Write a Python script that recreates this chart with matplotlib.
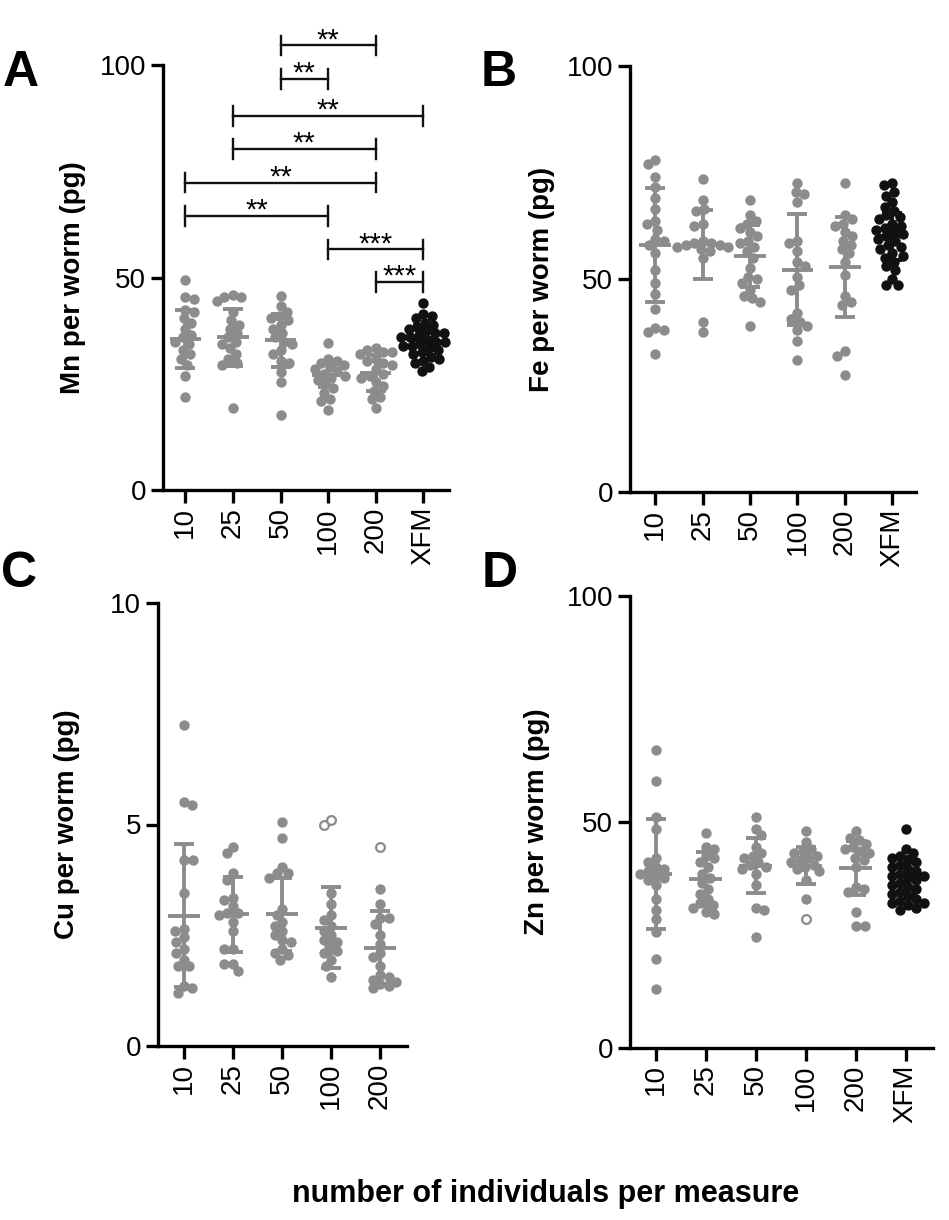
import numpy as np
import matplotlib
matplotlib.use('Agg')
import matplotlib.pyplot as plt

plt.rcParams['font.family'] = ['Liberation Sans', 'DejaVu Sans']

groups = ['10', '25', '50', '100', '200', 'XFM']
gray = '#8c8c8c'
black = '#111111'

# Mn per worm (pg), one list per group
mn_values = [
    [49.5, 45.5, 45.0, 42.5, 42.0, 40.5, 39.5, 38.0, 36.5, 36.0, 35.0, 34.5, 33.0, 32.0, 31.0, 29.5, 27.0, 22.0],
    [46.0, 45.5, 45.5, 44.5, 42.0, 40.0, 39.0, 38.0, 37.0, 36.0, 35.0, 34.5, 33.5, 32.0, 31.0, 30.0, 29.5, 19.5],
    [45.7, 43.5, 42.0, 41.0, 40.5, 40.0, 39.0, 38.0, 37.0, 36.0, 35.0, 34.5, 33.0, 32.0, 30.5, 30.0, 27.8, 25.5, 17.8],
    [34.7, 31.0, 30.5, 30.0, 29.5, 29.0, 28.5, 28.0, 27.5, 27.0, 26.5, 26.0, 25.0, 24.0, 23.0, 21.5, 21.0, 19.0],
    [33.5, 33.0, 32.5, 32.5, 32.0, 31.0, 30.5, 30.0, 29.5, 28.5, 27.5, 27.0, 26.5, 25.5, 24.5, 23.5, 22.0, 21.5, 19.5],
    [44.0, 41.5, 41.0, 40.5, 39.5, 39.0, 38.5, 38.0, 37.5, 37.0, 37.0, 36.5, 36.0, 36.0, 35.5, 35.0, 35.0, 34.5,
     34.0, 34.0, 33.5, 33.0, 32.5, 32.0, 31.5, 31.0, 30.5, 30.0, 29.0, 28.0],
]
mn_mean = [35.7, 36.0, 35.3, 27.1, 27.7, 35.5]
mn_sd = [6.85, 6.75, 6.3, 2.85, 4.2, 3.5]

# Fe per worm (pg)
fe_values = [
    [78.0, 77.0, 74.0, 71.5, 69.0, 66.5, 63.5, 63.0, 61.5, 59.5, 59.0, 58.0, 56.0, 52.0, 49.0, 46.5, 43.0, 38.5, 38.0, 37.5, 32.5],
    [73.5, 68.5, 66.5, 66.0, 63.0, 62.5, 59.0, 58.5, 58.5, 58.0, 58.0, 57.5, 57.5, 57.0, 56.5, 55.0, 40.0, 37.5],
    [68.5, 65.0, 63.5, 63.0, 62.0, 61.0, 60.0, 59.0, 58.5, 57.5, 56.5, 55.0, 52.5, 50.5, 50.0, 49.0, 47.5, 46.0, 45.5, 44.5, 39.0],
    [72.5, 70.5, 70.0, 68.0, 59.0, 58.5, 56.5, 54.0, 53.0, 50.5, 48.5, 47.5, 42.0, 40.5, 40.0, 39.0, 38.0, 35.5, 31.0],
    [72.5, 65.0, 64.0, 63.0, 62.5, 61.0, 60.0, 59.0, 58.0, 57.0, 56.0, 54.0, 51.0, 46.0, 44.5, 44.0, 33.0, 32.0, 27.5],
    [72.5, 72.0, 70.5, 69.5, 68.0, 67.0, 66.0, 65.0, 64.5, 64.0, 63.0, 62.5, 62.0, 61.5, 61.0, 60.5, 60.0, 59.5,
     59.0, 58.0, 57.5, 57.0, 56.0, 55.5, 55.0, 54.0, 53.0, 52.0, 50.0, 48.5, 48.5],
]
fe_mean = [57.9, 58.1, 55.4, 52.2, 52.8, 60.0]
fe_sd = [13.4, 8.1, 7.3, 13.0, 11.7, 5.5]

# Cu per worm (pg), no XFM group; open circles are outliers
cu_values = [
    [7.25, 5.5, 5.45, 4.2, 4.2, 3.45, 2.65, 2.6, 2.45, 2.35, 2.2, 2.1, 1.95, 1.8, 1.8, 1.35, 1.3, 1.2],
    [4.5, 4.35, 3.9, 3.75, 3.35, 3.3, 3.15, 3.0, 3.0, 2.95, 2.8, 2.6, 2.2, 2.2, 1.85, 1.85, 1.7],
    [5.05, 4.7, 4.05, 3.9, 3.9, 3.8, 3.1, 2.95, 2.8, 2.7, 2.6, 2.5, 2.4, 2.35, 2.2, 2.1, 2.05, 1.95],
    [3.45, 3.2, 2.95, 2.85, 2.7, 2.6, 2.5, 2.4, 2.35, 2.25, 2.15, 2.1, 1.95, 1.8, 1.55],
    [3.55, 3.2, 2.9, 2.9, 2.75, 2.5, 2.3, 2.1, 2.0, 1.8, 1.6, 1.55, 1.5, 1.45, 1.4, 1.35, 1.3],
]
cu_open = [[], [], [], [5.0, 5.1], [4.5]]
cu_mean = [2.94, 2.97, 2.97, 2.67, 2.22]
cu_sd = [1.61, 0.84, 0.83, 0.92, 0.83]

# Zn per worm (pg)
zn_values = [
    [66.0, 59.0, 51.0, 48.5, 42.0, 41.0, 40.0, 39.5, 39.0, 38.5, 38.0, 37.5, 37.0, 36.0, 33.0, 30.5, 28.5, 25.5, 19.5, 13.0],
    [47.5, 44.5, 44.0, 42.5, 42.0, 41.0, 40.0, 38.5, 37.5, 36.5, 35.0, 34.0, 33.0, 32.0, 31.5, 31.0, 30.0, 29.5],
    [51.0, 48.5, 47.0, 44.5, 43.0, 42.5, 42.0, 41.0, 40.5, 40.0, 39.5, 38.5, 36.0, 31.0, 30.5, 24.5],
    [48.0, 45.5, 44.0, 43.5, 43.0, 42.5, 42.0, 41.5, 41.0, 40.5, 40.0, 39.5, 39.0, 37.0, 33.0],
    [48.0, 46.5, 46.0, 45.0, 44.5, 44.0, 43.5, 43.0, 42.0, 41.5, 40.0, 35.5, 35.0, 34.5, 30.0, 27.0, 27.0],
    [48.5, 44.0, 43.0, 42.5, 42.0, 41.5, 41.0, 40.5, 40.0, 39.5, 39.0, 38.5, 38.0, 38.0, 37.5, 37.0, 36.5, 36.0,
     35.5, 35.0, 34.5, 34.0, 33.5, 33.0, 32.5, 32.0, 32.0, 31.5, 31.0, 30.5],
]
zn_open = [[], [], [], [28.5], [], []]
zn_mean = [38.4, 37.3, 40.3, 40.3, 39.7, 38.1]
zn_sd = [12.1, 6.0, 6.1, 4.1, 6.0, 4.0]

# significance brackets in panel A
sig_left = [2, 2, 1, 1, 0, 0, 3, 4]
sig_right = [4, 3, 5, 4, 4, 3, 5, 5]
sig_y = [104.7, 96.8, 88.1, 80.3, 72.4, 64.6, 56.7, 49.0]
sig_text = ['**', '**', '**', '**', '**', '**', '***', '***']


def swarm_x(ax, x0, values, diam):
    # simple beeswarm: put each point at the closest free spot to the centre line
    pts = ax.transData.transform(np.column_stack([np.full(len(values), x0), values]))
    ys = pts[:, 1]
    cx = pts[0, 0]
    offs = np.zeros(len(values))
    placed = []
    for k, i in enumerate(np.argsort(-ys)):
        y = ys[i]
        sign = 1 if k % 2 == 0 else -1
        found = 0.0
        for step in np.arange(0, 80, 0.5):
            cands = [0.0] if step == 0 else [sign * step, -sign * step]
            hit = None
            for c in cands:
                if all((c - px) ** 2 + (y - py) ** 2 >= diam ** 2 for px, py in placed):
                    hit = c
                    break
            if hit is not None:
                found = hit
                break
        placed.append((found, y))
        offs[i] = found
    back = ax.transData.inverted().transform(np.column_stack([cx + offs, ys]))
    return back[:, 0]


def draw_panel(ax, values, opens, means, sds, ymax, ylabel, xlim, label_x):
    n_groups = len(values)
    ax.set_xlim(xlim)
    ax.set_ylim(0, ymax)
    for i in range(n_groups):
        col = black if groups[i] == 'XFM' else gray
        op = opens[i] if opens is not None else []
        allv = list(values[i]) + list(op)
        xs = swarm_x(ax, i, allv, 8.6)
        n = len(values[i])
        ax.scatter(xs[:n], values[i], s=56, color=col, lw=0, zorder=2, clip_on=False)
        if op:
            ax.scatter(xs[n:], op, s=40, facecolor='white', edgecolor=col, lw=1.6, zorder=2)
        ax.hlines(means[i], i - 0.33, i + 0.33, color=col, lw=2.8, zorder=3)
        ax.errorbar(i, means[i], yerr=sds[i], color=col, lw=2.8, capsize=7.5,
                    capthick=2.8, zorder=3)
    for s in ['top', 'right']:
        ax.spines[s].set_visible(False)
    for s in ['left', 'bottom']:
        ax.spines[s].set_linewidth(2.4)
    ax.set_yticks([0, ymax / 2, ymax])
    ax.set_yticklabels([f'{v:g}' for v in [0, ymax / 2, ymax]])
    ax.set_xticks(range(n_groups))
    ax.set_xticklabels(groups[:n_groups], rotation=90)
    ax.tick_params(width=2.4, length=9, labelsize=20, pad=3)
    ax.set_ylabel(ylabel, fontsize=20, fontweight='bold', va='center')
    ax.yaxis.set_label_coords(label_x, 0.5)


W, H = 949, 1220
fig = plt.figure(figsize=(W / 100, H / 100), dpi=100)


def axes_px(x0, x1, ytop, ybot):
    return fig.add_axes([x0 / W, 1 - ybot / H, (x1 - x0) / W, (ybot - ytop) / H])


axA = axes_px(163, 449, 65.4, 490.4)
axB = axes_px(630, 916, 66, 492)
axC = axes_px(158, 407, 603, 1046)
axD = axes_px(630, 933, 596, 1047.5)

draw_panel(axA, mn_values, None, mn_mean, mn_sd, 100, 'Mn per worm (pg)', (-0.47, 5.54), -0.315)
draw_panel(axB, fe_values, None, fe_mean, fe_sd, 100, 'Fe per worm (pg)', (-0.53, 5.5), -0.308)
draw_panel(axC, cu_values, cu_open, cu_mean, cu_sd, 10, 'Cu per worm (pg)', (-0.53, 4.55), -0.367)
draw_panel(axD, zn_values, zn_open, zn_mean, zn_sd, 100, 'Zn per worm (pg)', (-0.52, 5.55), -0.307)

# brackets with stars above panel A
for a, b, y, t in zip(sig_left, sig_right, sig_y, sig_text):
    axA.plot([a, b], [y, y], color=black, lw=1.7, clip_on=False)
    axA.plot([a, a], [y - 2.3, y + 2.3], color=black, lw=1.7, clip_on=False)
    axA.plot([b, b], [y - 2.3, y + 2.3], color=black, lw=1.7, clip_on=False)
    axA.annotate(t, xy=((a + b) / 2, y), xytext=(0, -2), textcoords='offset points',
                 ha='center', va='baseline', fontsize=21, annotation_clip=False)

# panel letters
for letter, px, py in [('A', 3, 86), ('B', 481, 86), ('C', 1, 587), ('D', 482, 587)]:
    fig.text(px / W, 1 - py / H, letter, fontsize=36, fontweight='bold', ha='left', va='baseline')

fig.text(546 / W, 1 - 1202 / H, 'number of individuals per measure', fontsize=22,
         fontweight='bold', ha='center', va='baseline')

fig.savefig('out.png', dpi=100)
